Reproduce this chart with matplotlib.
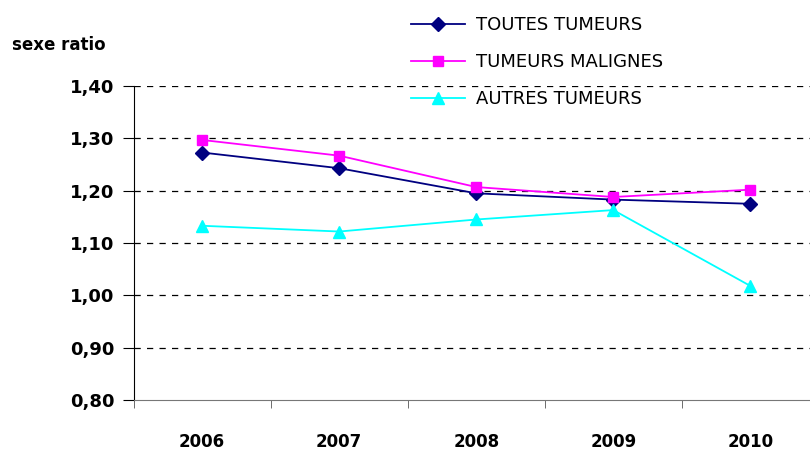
import matplotlib
matplotlib.use("Agg")
import matplotlib.pyplot as plt
import numpy as np

years = ["2006", "2007", "2008", "2009", "2010"]
toutes = [1.273, 1.243, 1.195, 1.183, 1.175]
malignes = [1.297, 1.267, 1.207, 1.188, 1.202]
autres = [1.133, 1.122, 1.145, 1.163, 1.018]
yticks = [0.80, 0.90, 1.00, 1.10, 1.20, 1.30, 1.40]

plt.rcParams["font.family"] = "DejaVu Sans"

fig = plt.figure(figsize=(8.1, 4.53), dpi=100)
ax = fig.add_axes([0.165, 0.117, 0.846, 0.693])

x = np.arange(len(years))
ax.plot(x, toutes, color="#000080", marker="D", markersize=7, lw=1.3, label="TOUTES TUMEURS")
ax.plot(x, malignes, color="#FF00FF", marker="s", markersize=7, lw=1.3, label="TUMEURS MALIGNES")
ax.plot(x, autres, color="#00FFFF", marker="^", markersize=8, lw=1.3, label="AUTRES TUMEURS")

ax.set_xlim(-0.5, len(years) - 0.5)
ax.set_ylim(0.80, 1.40)
ax.set_yticks(yticks)
ax.set_yticklabels([f"{v:.2f}".replace(".", ",") for v in yticks], fontsize=13, fontweight="bold")
for v in yticks[1:]:
    ax.axhline(v, color="black", lw=0.9, ls=(0, (5, 5)), zorder=0)

ax.set_xticks(x)
ax.set_xticklabels(years, fontsize=12, fontweight="bold")
ax.tick_params(axis="x", which="major", length=0, pad=24)
ax.set_xticks(np.arange(len(years) + 1) - 0.5, minor=True)
ax.tick_params(axis="x", which="minor", length=6, color="#555555")
ax.tick_params(axis="y", length=8, pad=6)

for s in ["top", "right"]:
    ax.spines[s].set_visible(False)
ax.spines["bottom"].set_color("#777777")
ax.spines["left"].set_color("black")

fig.text(0.015, 0.89, "sexe ratio", fontsize=12, fontweight="bold")

fig.legend(loc="upper left", bbox_to_anchor=(0.487, 1.0), frameon=False,
           fontsize=13, handlelength=3.0, labelspacing=1.05, handletextpad=0.6)

fig.savefig("out.png", dpi=100)
